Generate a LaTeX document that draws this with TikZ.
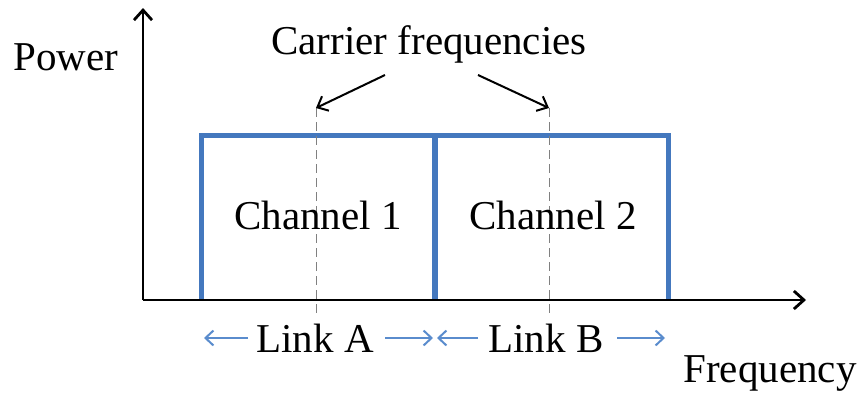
\documentclass[tikz,border=0pt]{standalone}
\usepackage{fontspec}
\setmainfont{Liberation Serif}
\usetikzlibrary{arrows.meta}
\definecolor{chblue}{RGB}{68,120,190}
\definecolor{lkblue}{RGB}{90,140,205}
\begin{document}
\begin{tikzpicture}[x=1pt,y=-1pt,
  lbl/.style={font=\fontsize{41}{43}\selectfont, inner sep=0pt, anchor=center},
  axis/.style={line width=2.8pt, -{Straight Barb[length=10pt,width=18pt,line width=2.8pt]}},
  chan/.style={draw=chblue, line width=5pt},
  carrier/.style={draw=gray, dashed, line width=1pt, dash pattern=on 9pt off 5pt},
  ptr/.style={line width=2pt, -{Straight Barb[length=9pt,width=16pt,line width=2pt]}},
  link/.style={draw=lkblue, line width=2pt, -{Straight Barb[length=8pt,width=15pt,line width=2pt]}}]
\useasboundingbox (0,0) rectangle (862,394);
% axes
\coordinate (O) at (143,300);
\coordinate (Ytop) at (143,8);
\coordinate (Xend) at (806,300);
% channels
\coordinate (c1bl) at (201,300);
\coordinate (c1tl) at (201,135);
\coordinate (mt) at (435,135);
\coordinate (mb) at (435,300);
\coordinate (c2tr) at (668,135);
\coordinate (c2br) at (668,300);
\draw[chan, line join=miter] (c1bl) -- (c1tl) -- (c2tr) -- (c2br);
\draw[chan, line width=6.5pt] (mt) -- (mb);
% carrier dashed lines
\coordinate (fa1) at (316,108);
\coordinate (fa2) at (316,316);
\coordinate (fb1) at (549,108);
\coordinate (fb2) at (549,316);
\draw[carrier] (fa1) -- (fa2);
\draw[carrier] (fb1) -- (fb2);
\draw[axis] (O) -- (Ytop);
\draw[axis] (O) -- (Xend);
% labels
\node[lbl] (power) at (66,57) {Power};
\node[lbl] (freq) at (770,373) {Frequency};
\node[lbl] (carr) at (429,44) {Carrier frequencies};
\node[lbl] (ch1) at (318,215) {Channel 1};
\node[lbl] (ch2) at (553,215) {Channel 2};
\coordinate (pl) at (385,75);
\coordinate (pr) at (478,75);
\draw[ptr] (pl) -- (fa1);
\draw[ptr] (pr) -- (fb1);
% link labels
\node[lbl] (la) at (315,338) {Link A};
\node[lbl] (lb) at (546,338) {Link B};
\coordinate (la0) at (248,338);
\coordinate (la1) at (204,338);
\coordinate (la2) at (385,338);
\coordinate (la3) at (433,338);
\coordinate (lb0) at (478,338);
\coordinate (lb1) at (437,338);
\coordinate (lb2) at (617,338);
\coordinate (lb3) at (665,338);
\draw[link] (la0) -- (la1);
\draw[link] (la2) -- (la3);
\draw[link] (lb0) -- (lb1);
\draw[link] (lb2) -- (lb3);
\end{tikzpicture}
\end{document}
